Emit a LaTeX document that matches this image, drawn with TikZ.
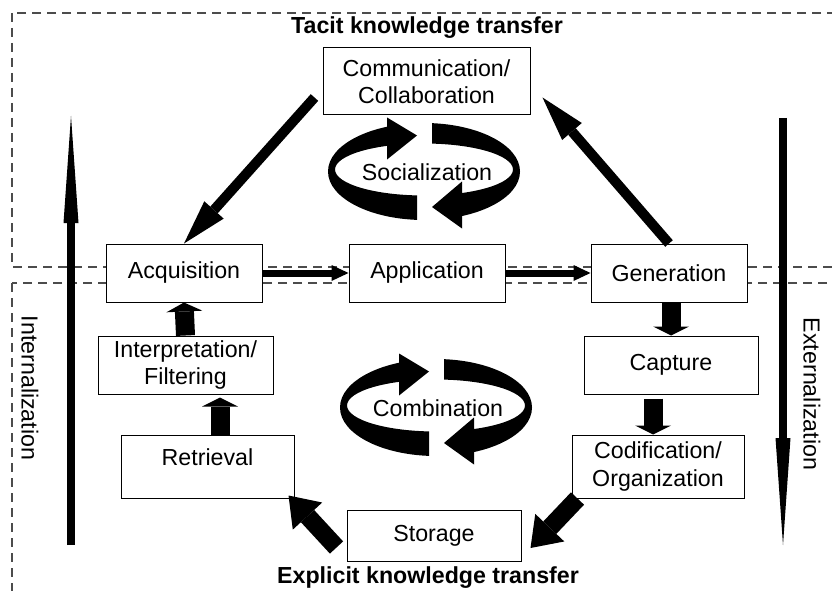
\documentclass[tikz,border=0pt]{standalone}
\usepackage{fontspec}
\setmainfont{Liberation Sans}
\usetikzlibrary{arrows.meta}
\newcommand{\kmfont}{\fontsize{23.2pt}{27.5pt}\selectfont}

\tikzset{
  box/.style={draw, fill=white, line width=1pt, inner sep=0pt, align=center, font=\kmfont},
  txt/.style={inner sep=0pt, font=\kmfont},
  title/.style={inner sep=0pt, font=\kmfont\bfseries},
  frame/.style={draw=black!70, line width=1.1pt, dash pattern=on 9pt off 6pt},
  flowarrow/.style={line width=7pt, -{Triangle[width=16pt,length=17pt,line width=0pt]}},
  stubarrow/.style={line width=19pt, -{Triangle[width=36pt,length=9pt,line width=0pt]}},
  diagarrow/.style={line width=10pt, -{Triangle[width=26pt,length=45pt,line width=0pt]}},
  fatarrow/.style={line width=18pt, -{Triangle[width=40pt,length=28pt,line width=0pt]}},
  axisarrow/.style={line width=7.5pt, -{Triangle[width=15pt,length=107pt,line width=0pt]}},
  pics/cyclering/.style={code={
    \begin{scope}
      \clip (-120,-70) -- (-37,-70) -- (-37,0) -- (-7,0) -- (-7,70) -- (-120,70) -- cycle
            (8,-70) -- (120,-70) -- (120,70) -- (38,70) -- (38,0) -- (8,0) -- cycle;
      \fill[even odd rule] (0,0) ellipse [x radius=96, y radius=48.5]
                           (0,-2) ellipse [x radius=89, y radius=26];
    \end{scope}
    \fill (-37,-54) -- (-7,-36) -- (-37,-12) -- cycle;
    \fill (38,10) -- (8,35.5) -- (38,57) -- cycle;
  }}
}

\begin{document}
\begin{tikzpicture}[x=1pt,y=-1pt]
    \clip (0,0) rectangle (832,591);
    % tacit / explicit areas
    \draw[frame] (12,13) rectangle (845,267);
    \draw[frame] (12,283) rectangle (845,600);
    \node[title] (tacit) at (427,28) {Tacit knowledge transfer};
    \node[title] (explicit) at (428,578) {Explicit knowledge transfer};

    % boxes
    \node[box, minimum width=207pt, minimum height=67pt] (comm) at (426.5,81.5) {Communication/\\Collaboration};
    \node[box, minimum width=156pt, minimum height=58pt] (acq) at (184,273) {Acquisition};
    \node[box, minimum width=156pt, minimum height=58pt] (app) at (427,273) {Application};
    \node[box, minimum width=156pt, minimum height=58pt] (gen) at (669,273) {Generation};
    \node[box, minimum width=175pt, minimum height=58pt] (interp) at (185.5,365) {Interpretation/\\Filtering};
    \node[box, minimum width=174pt, minimum height=58pt] (capt) at (671,365) {Capture};
    \node[box, minimum width=173pt, minimum height=63pt, text depth=19pt] (retr) at (207.5,466.5) {Retrieval};
    \node[box, minimum width=172pt, minimum height=63pt] (cod) at (658,466.5) {Codification/\\Organization};
    \node[box, minimum width=174pt, minimum height=51pt] (stor) at (434,535.5) {Storage};

    % cycles
    \pic at (424,171.5) {cyclering};
    \node[txt] (soc) at (427,172) {Socialization};
    \pic at (436,407.5) {cyclering};
    \node[txt] (comb) at (438,408) {Combination};

    % flow
    \draw[flowarrow] (acq.east) -- (app.west);
    \draw[flowarrow] (app.east) -- (gen.west);
    \draw[diagarrow] ([shift={(-8,-18)}]comm.south west) -- (acq.north);
    \draw[diagarrow] (gen.north) -- ([shift={(12,-18)}]comm.south east);
    \draw[stubarrow] ([xshift=2pt]gen.south) -- (capt.north);
    \draw[stubarrow] ([xshift=-18pt,yshift=-4pt]capt.south) -- ([xshift=-5pt]cod.north);
    \draw[fatarrow] ([xshift=6pt]cod.south west) -- ([shift={(9,12.5)}]stor.east);
    \draw[fatarrow] ([shift={(-10,12)}]stor.west) -- ([shift={(-6,-3)}]retr.south east);
    \draw[stubarrow] ([xshift=12.5pt]retr.north) -- ([xshift=34.5pt,yshift=-3pt]interp.south);
    \draw[stubarrow] (interp.north) -- (acq.south);

    % side arrows
    \coordinate (intlow) at (71,545);
    \coordinate (inthigh) at (71,116);
    \coordinate (exthigh) at (783,118);
    \coordinate (extlow) at (783,545);
    \draw[axisarrow] (intlow) -- (inthigh);
    \draw[axisarrow] (exthigh) -- (extlow);
    \node[txt, rotate=-90] (intlabel) at (30,388) {Internalization};
    \node[txt, rotate=-90] (extlabel) at (812,394) {Externalization};
\end{tikzpicture}
\end{document}
